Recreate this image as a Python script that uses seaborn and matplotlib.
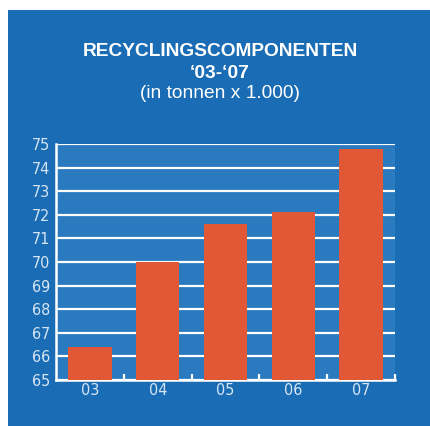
import matplotlib
matplotlib.use("Agg")
import matplotlib.pyplot as plt
import seaborn as sns
import pandas as pd
from matplotlib.patches import Rectangle
from matplotlib.ticker import FixedLocator

# Data
years = ["03", "04", "05", "06", "07"]
tonnen = [66.4, 70.0, 71.6, 72.1, 74.8]
y_ticks = list(range(65, 76))

PANEL = "#1a6cb4"
AXBG = "#2a7abf"
BAR = "#e05836"
LABEL = "#d6e6f5"

sns.set_style("white")
plt.rcParams['font.family'] = ['Liberation Sans', 'DejaVu Sans']

df = pd.DataFrame({"jaar": years, "tonnen": tonnen})

fig = plt.figure(figsize=(4.3, 4.26), dpi=100)
fig.patch.set_facecolor("white")
fig.patches.append(Rectangle((8 / 430, 0), 1 - 8 / 430, 1 - 10 / 426,
                             transform=fig.transFigure, facecolor=PANEL,
                             edgecolor="none", zorder=-5))

ax = fig.add_axes([56 / 430, 1 - 380 / 426, 339 / 430, 236 / 426])
ax.set_facecolor(AXBG)

sns.barplot(data=df, x="jaar", y="tonnen", color=BAR, width=0.64,
            saturation=1, ax=ax, zorder=2, edgecolor="none", linewidth=0)

ax.set_ylim(65, 75)
ax.set_xlim(-0.5, 4.5)
ax.set_yticks(y_ticks)
ax.set_axisbelow(True)
ax.yaxis.grid(True, color="white", linewidth=1.6)
ax.xaxis.grid(False)

for side in ["top", "right"]:
    ax.spines[side].set_visible(False)
for side in ["left", "bottom"]:
    ax.spines[side].set_color("white")
    ax.spines[side].set_linewidth(1.8)
    ax.spines[side].set_zorder(1)

ax.xaxis.set_minor_locator(FixedLocator([0.5, 1.5, 2.5, 3.5, 4.5]))
ax.tick_params(axis="x", which="minor", direction="in", length=4,
               width=1.6, color="white", bottom=True)
ax.tick_params(axis="x", which="major", length=0, pad=2)
ax.tick_params(axis="y", length=0, pad=4)

for lab in ax.get_xticklabels() + ax.get_yticklabels():
    lab.set_family(['DejaVu Sans'])
    lab.set_fontstretch('condensed')
    lab.set_fontsize(11.5)
    lab.set_color(LABEL)

ax.set_xlabel("")
ax.set_ylabel("")

cx = 220 / 430
fig.text(cx, 1 - 52 / 426, "RECYCLINGSCOMPONENTEN", ha="center", va="center",
         fontsize=13.8, fontweight="bold", color="white")
fig.text(cx, 1 - 73.5 / 426, "\u201803-\u201807", ha="center", va="center",
         fontsize=13.8, fontweight="bold", color="white")
fig.text(cx, 1 - 94 / 426, "(in tonnen x 1.000)", ha="center", va="center",
         fontsize=13.8, color="white")

fig.savefig("out.png", dpi=100)
